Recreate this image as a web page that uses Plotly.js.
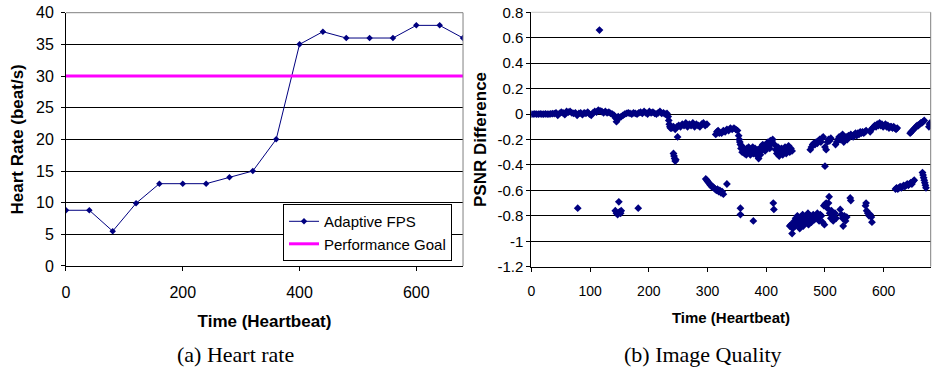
<!DOCTYPE html>
<html><head><meta charset="utf-8">
<script src="https://cdn.plot.ly/plotly-3.0.1.min.js"></script>
<style>html,body{margin:0;padding:0;background:#fff}#chart{width:932px;height:367px}</style>
</head><body><div id="chart"></div>
<script>
// ---- (a) Heart rate ----
const hrTime = [0,40,80,120,160,200,240,280,320,360,400,440,480,520,560,600,640,680];
const hrRate = [8.8,8.8,5.5,9.9,13,13,13,14,15,20,35,37,36,36,36,38,38,36];
const goalTime = [0,680];
const goalRate = [30,30];

// ---- (b) Image quality: PSNR difference ----
const bandX = [0,3,6,9,12,15,18,21,24,27,30,33,36,39,
  42,45,48,51,54,57,60,63,66,69,72,75,78,81,84,87,90,93,96,99,102,105,108,111,114,117,120,123,126,129,132,135,138,141,
  143,145,146,148,
  150,153,156,159,162,165,168,171,174,177,180,183,186,189,192,195,198,201,204,207,210,213,216,219,222,225,228,231,
  233,234,235,236,237,
  239,242,245,248,251,254,257,260,263,266,269,272,275,278,281,284,287,290,293,296,299,
  249,242,243,244,245,246,
  314,316,318,320,324,327,330,333,336,339,342,345,348,351,353,354,355,356,
  357,359,361,363,365,367,369,371,373,375,377,379,381,383,385,387,389,391,393,395,397,399,401,403,405,407,409,411,
  358,362,366,370,374,378,382,386,390,394,398,402,406,410,
  414,416,418,420,422,424,426,428,430,432,434,436,438,440,442,444,
  475,477,479,481,483,485,487,489,491,493,495,497,
  500,500,502,504,506,508,510,
  518,520,522,524,526,528,530,
  532,534,536,538,540,542,544,546,548,550,552,554,556,558,560,562,564,566,568,570,
  577,579,581,583,585,587,589,591,593,595,597,599,601,603,605,607,609,611,613,615,617,619,621,623,
  645,647,649,651,653,655,657,659,661,663,665,667,669,
  677,678,679,680];
const bandY = [0,0,0.001,0,0,0.002,0,0,0.001,0,0,0.002,0.003,0.004,
  0.01,-0.01,0.005,0.015,0.01,-0.005,0.02,0.015,0.02,0.01,0.005,0.01,-0.01,0.005,0.01,-0.005,0.01,0.005,0.015,0,-0.01,0.01,0.02,0.015,0.03,0.025,0.02,0.01,0.02,0.01,0.015,0.005,0,-0.01,
  -0.03,-0.06,-0.04,-0.02,
  -0.03,-0.02,-0.01,0,0.005,0.01,0.005,0,0.01,0.005,0,0.01,0.015,0.005,0.02,0.01,0,0.02,0.01,0.015,0.005,0,0.01,0.02,0.005,0.01,0,0.005,
  -0.02,-0.05,-0.08,-0.1,-0.11,
  -0.11,-0.1,-0.12,-0.1,-0.09,-0.1,-0.08,-0.09,-0.07,-0.1,-0.08,-0.09,-0.07,-0.1,-0.08,-0.09,-0.1,-0.08,-0.07,-0.09,-0.08,
  -0.18,-0.31,-0.33,-0.35,-0.37,-0.36,
  -0.16,-0.14,-0.13,-0.15,-0.15,-0.13,-0.14,-0.12,-0.13,-0.11,-0.12,-0.11,-0.12,-0.13,-0.17,-0.2,-0.22,-0.24,
  -0.27,-0.3,-0.28,-0.31,-0.29,-0.27,-0.3,-0.28,-0.32,-0.29,-0.26,-0.3,-0.27,-0.31,-0.33,-0.35,-0.3,-0.26,-0.28,-0.25,-0.27,-0.24,-0.26,-0.22,-0.25,-0.21,-0.23,-0.2,
  -0.25,-0.27,-0.32,-0.26,-0.28,-0.31,-0.29,-0.28,-0.32,-0.24,-0.29,-0.23,-0.27,-0.22,
  -0.24,-0.28,-0.31,-0.26,-0.33,-0.29,-0.27,-0.32,-0.3,-0.26,-0.31,-0.28,-0.25,-0.3,-0.27,-0.29,
  -0.28,-0.26,-0.24,-0.23,-0.24,-0.22,-0.23,-0.21,-0.2,-0.22,-0.19,-0.18,
  -0.41,-0.26,-0.28,-0.22,-0.2,-0.21,-0.19,
  -0.24,-0.22,-0.2,-0.18,-0.2,-0.17,-0.16,
  -0.22,-0.19,-0.18,-0.2,-0.17,-0.18,-0.16,-0.17,-0.18,-0.16,-0.15,-0.17,-0.15,-0.16,-0.14,-0.15,-0.14,-0.15,-0.14,-0.13,
  -0.14,-0.12,-0.11,-0.1,-0.09,-0.1,-0.08,-0.09,-0.07,-0.09,-0.08,-0.1,-0.09,-0.08,-0.1,-0.09,-0.11,-0.1,-0.1,-0.11,-0.1,-0.11,-0.12,-0.11,
  -0.15,-0.14,-0.13,-0.12,-0.11,-0.1,-0.09,-0.09,-0.08,-0.07,-0.07,-0.06,-0.05,
  -0.1,-0.08,-0.07,-0.09];

const lowX = [79,116,143,145,147,149,150,152,153,182,
  297,299,300,302,304,305,307,309,311,313,315,317,319,321,323,325,327,333,
  356,356,378,412,413,
  440,442,444,445,446,448,449,450,452,453,455,456,457,459,460,462,463,465,466,468,469,471,472,474,475,477,478,480,482,485,487,488,490,492,494,496,498,499,
  500,502,504,506,507,508,510,511,512,514,515,517,519,526,528,530,531,533,535,537,543,544,
  569,570,571,573,575,577,579,580,
  620,622,624,626,628,630,632,634,636,638,640,642,644,646,648,650,652,
  666,667,668,669,670,671,672];
const lowY = [-0.74,0.66,-0.76,-0.78,-0.79,-0.69,-0.77,-0.78,-0.76,-0.74,
  -0.51,-0.52,-0.53,-0.54,-0.55,-0.56,-0.57,-0.57,-0.58,-0.59,-0.6,-0.59,-0.61,-0.6,-0.62,-0.61,-0.63,-0.55,
  -0.74,-0.79,-0.84,-0.7,-0.75,
  -0.88,-0.87,-0.94,-0.9,-0.86,-0.84,-0.88,-0.82,-0.85,-0.8,-0.87,-0.83,-0.9,-0.81,-0.85,-0.79,-0.88,-0.82,-0.86,-0.8,-0.84,-0.78,-0.87,-0.83,-0.8,-0.85,-0.81,-0.79,-0.83,-0.8,-0.78,-0.82,-0.84,-0.79,-0.8,-0.85,-0.72,-0.87,
  -0.71,-0.7,-0.74,-0.7,-0.65,-0.78,-0.82,-0.76,-0.8,-0.84,-0.79,-0.78,-0.82,-0.75,-0.79,-0.82,-0.88,-0.8,-0.84,-0.81,-0.66,-0.68,
  -0.72,-0.7,-0.76,-0.78,-0.8,-0.79,-0.81,-0.85,
  -0.59,-0.58,-0.59,-0.58,-0.57,-0.58,-0.57,-0.56,-0.57,-0.56,-0.55,-0.56,-0.55,-0.54,-0.55,-0.53,-0.52,
  -0.46,-0.48,-0.5,-0.52,-0.54,-0.56,-0.58];

const hrTicks = [0,200,400,600];
const psnrXTicks = [0,100,200,300,400,500,600];
const psnrYTicks = [0.8,0.6,0.4,0.2,0,-0.2,-0.4,-0.6,-0.8,-1,-1.2];
const psnrYLabels = ['0.8','0.6','0.4','0.2','0','-0.2','-0.4','-0.6','-0.8','-1','-1.2'];

const NAVY = '#000080';
const FONT = 'Liberation Sans, Arial, sans-serif';

const traces = [
  {x: hrTime, y: hrRate, name: 'Adaptive FPS', type: 'scatter', mode: 'lines+markers',
   line: {color: NAVY, width: 1}, marker: {symbol: 'diamond', size: 5, color: NAVY},
   xaxis: 'x', yaxis: 'y'},
  {x: goalTime, y: goalRate, name: 'Performance Goal', type: 'scatter', mode: 'lines',
   line: {color: '#FF00FF', width: 3}, xaxis: 'x', yaxis: 'y'},
  {x: bandX.concat(lowX), y: bandY.concat(lowY), name: 'PSNR Difference', type: 'scatter', mode: 'markers',
   marker: {symbol: 'diamond', size: 6, color: NAVY}, showlegend: false, xaxis: 'x2', yaxis: 'y2'}
];

const axisCommon = {
  ticks: 'outside', ticklen: 4, tickwidth: 1, tickcolor: '#000',
  showline: true, linecolor: '#000', linewidth: 1, zeroline: false,
  color: '#000'
};

const layout = {
  width: 932, height: 367,
  margin: {l: 0, r: 0, t: 0, b: 0},
  paper_bgcolor: '#fff', plot_bgcolor: '#fff',
  font: {family: FONT, color: '#000'},
  showlegend: true,
  legend: {x: 0.485, xanchor: 'right', y: 0.444, yanchor: 'top',
    bgcolor: '#fff', bordercolor: '#000', borderwidth: 1,
    font: {family: FONT, size: 15, color: '#000'}, itemwidth: 30, tracegroupgap: 0},
  xaxis: Object.assign({}, axisCommon, {
    domain: [0.0708, 0.4968], range: [0, 680], tickvals: hrTicks, showgrid: false, anchor: 'y',
    tickfont: {family: FONT, size: 16}, ticklabelstandoff: 8,
    title: {text: 'Time (Heartbeat)', font: {family: FONT, size: 17, weight: 'bold'}, standoff: 14}
  }),
  yaxis: Object.assign({}, axisCommon, {
    domain: [0.2752, 0.9654], range: [0, 40], dtick: 5, tick0: 0, anchor: 'x',
    showgrid: true, gridcolor: '#000', gridwidth: 1,
    tickfont: {family: FONT, size: 16}, ticklabelstandoff: 4,
    title: {text: 'Heart Rate (beat/s)', font: {family: FONT, size: 17, weight: 'bold'}, standoff: 8}
  }),
  xaxis2: Object.assign({}, axisCommon, {
    domain: [0.5701, 0.9986], range: [0, 680], tickvals: psnrXTicks, showgrid: false, anchor: 'y2',
    tickfont: {family: FONT, size: 14}, ticklabelstandoff: 8,
    title: {text: 'Time (Heartbeat)', font: {family: FONT, size: 15, weight: 'bold'}, standoff: 14}
  }),
  yaxis2: Object.assign({}, axisCommon, {
    domain: [0.2733, 0.9665], range: [-1.2, 0.8], tickvals: psnrYTicks, ticktext: psnrYLabels, anchor: 'x2',
    showgrid: true, gridcolor: '#000', gridwidth: 1,
    tickfont: {family: FONT, size: 15},
    title: {text: 'PSNR Difference', font: {family: FONT, size: 17, weight: 'bold'}, standoff: 6}
  }),
  shapes: [
    {type: 'line', xref: 'x domain', yref: 'y domain', x0: 0, x1: 1, y0: 1, y1: 1, line: {color: '#808080', width: 1}},
    {type: 'line', xref: 'x domain', yref: 'y domain', x0: 1, x1: 1, y0: 0, y1: 1, line: {color: '#808080', width: 1}},
    {type: 'line', xref: 'x2 domain', yref: 'y2 domain', x0: 0, x1: 1, y0: 1, y1: 1, line: {color: '#c8c8c8', width: 1}},
    {type: 'line', xref: 'x2 domain', yref: 'y2 domain', x0: 1, x1: 1, y0: 0, y1: 1, line: {color: '#808080', width: 1}}
  ],
  annotations: [
    {text: '(a) Heart rate', xref: 'paper', yref: 'paper', x: 0.2532, y: 0.0327, xanchor: 'center', yanchor: 'middle',
     showarrow: false, font: {family: 'Liberation Serif, DejaVu Serif, serif', size: 22, color: '#000'}},
    {text: '(b) Image Quality', xref: 'paper', yref: 'paper', x: 0.7543, y: 0.0327, xanchor: 'center', yanchor: 'middle',
     showarrow: false, font: {family: 'Liberation Serif, DejaVu Serif, serif', size: 22, color: '#000'}}
  ]
};

Plotly.newPlot('chart', traces, layout, {displayModeBar: false, staticPlot: true});
</script></body></html>
